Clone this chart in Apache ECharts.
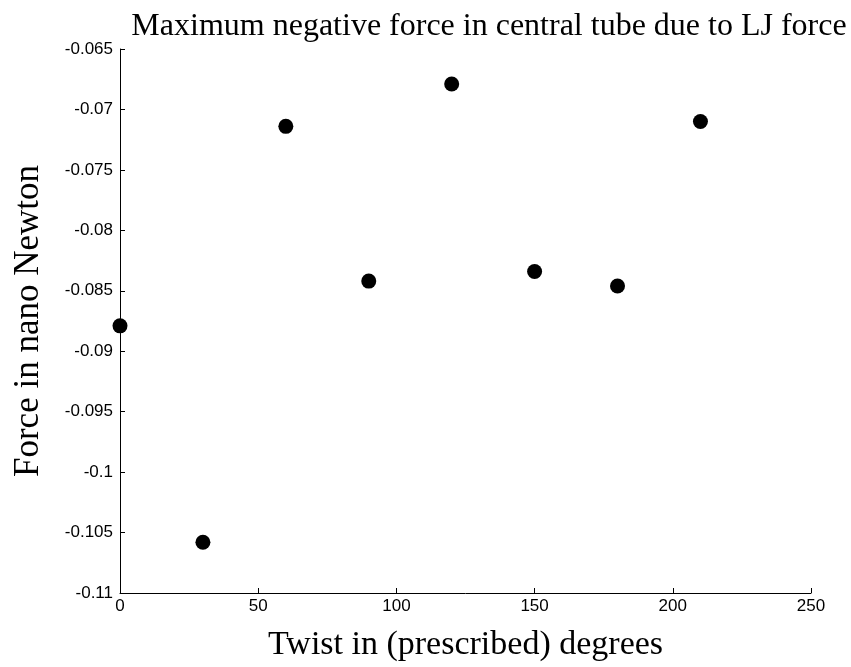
<!DOCTYPE html>
<html><head><meta charset="utf-8">
<script src="https://cdn.jsdelivr.net/npm/echarts@6/dist/echarts.min.js"></script>
<style>html,body{margin:0;padding:0;background:#fff}#c{width:851px;height:667px}</style>
</head><body><div id="c"></div>
<script>
const twist = [0, 30, 60, 90, 120, 150, 180, 210];
const force = [-0.0879, -0.1058, -0.0714, -0.0842, -0.0679, -0.0834, -0.0846, -0.0710];
const titleText = 'Maximum negative force in central tube due to LJ force';
const xName = 'Twist in (prescribed) degrees';
const yName = 'Force in nano Newton';

const chart = echarts.init(document.getElementById('c'));
chart.setOption({
  animation: false,
  backgroundColor: '#fff',
  title: {
    text: titleText, left: 484, top: 6, textAlign: 'center',
    textStyle: {fontFamily: 'Liberation Serif', fontSize: 32, fontWeight: 'normal', color: '#000'}
  },
  grid: {left: 120, top: 49, right: 40, bottom: 73},
  xAxis: {
    type: 'value', min: 0, max: 250, interval: 50,
    name: xName, nameLocation: 'middle', nameGap: 35,
    nameTextStyle: {fontFamily: 'Liberation Serif', fontSize: 34, color: '#000'},
    axisLine: {show: true, onZero: false, lineStyle: {color: '#000', width: 1}},
    axisTick: {show: true, inside: true, length: 5, lineStyle: {color: '#000'}},
    axisLabel: {fontFamily: 'Liberation Sans', fontSize: 17, color: '#000', margin: 5},
    splitLine: {show: false}
  },
  yAxis: {
    type: 'value', min: -0.11, max: -0.065, interval: 0.005,
    name: yName, nameLocation: 'middle', nameGap: 74, nameRotate: 90,
    nameTextStyle: {fontFamily: 'Liberation Serif', fontSize: 35, color: '#000'},
    axisLine: {show: true, onZero: false, lineStyle: {color: '#000', width: 1}},
    axisTick: {show: true, inside: true, length: 5, lineStyle: {color: '#000'}},
    axisLabel: {fontFamily: 'Liberation Sans', fontSize: 17, color: '#000', margin: 7,
      formatter: v => String(parseFloat(v.toFixed(3)))},
    splitLine: {show: false}
  },
  series: [{
    type: 'scatter', symbol: 'circle', symbolSize: 15,
    itemStyle: {color: '#000', opacity: 1},
    data: twist.map((t, i) => [t, force[i]])
  }]
});
</script></body></html>
